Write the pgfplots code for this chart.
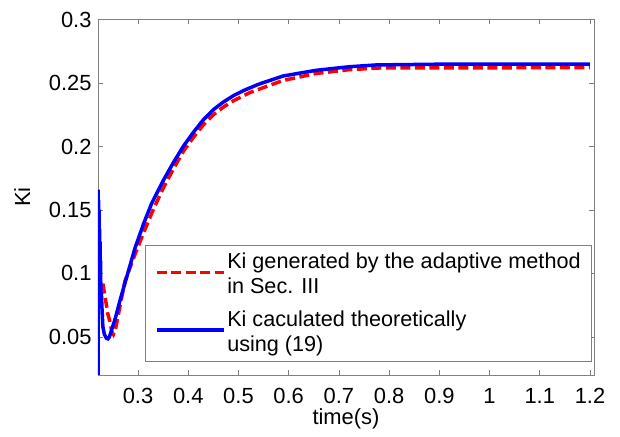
\documentclass[border=0pt]{standalone}
\usepackage{fontspec}
\setmainfont{Liberation Sans}
\usepackage{pgfplots}
\pgfplotsset{compat=1.18}
\definecolor{axgray}{RGB}{128,128,128}
\begin{document}
\fontsize{22}{27}\selectfont
\begin{tikzpicture}
\useasboundingbox (-98bp,-62bp) rectangle (522bp,375bp);
\begin{axis}[
  scale only axis,
  width=496bp, height=355.5bp,
  xmin=0.2203, xmax=1.208,
  ymin=0.02, ymax=0.3,
  xtick={0.3,0.4,0.5,0.6,0.7,0.8,0.9,1,1.1,1.2},
  ytick={0.05,0.1,0.15,0.2,0.25,0.3},
  xticklabels={0.3,0.4,0.5,0.6,0.7,0.8,0.9,1,1.1,1.2},
  yticklabels={0.05,0.1,0.15,0.2,0.25,0.3},
  tick align=inside,
  xtick pos=both, ytick pos=both,
  major tick length=5bp,
  tick style={axgray, line width=0.6bp},
  axis line style={axgray, line width=0.8bp},
  /pgf/number format/assume math mode=true,
  ticklabel style={font=\fontsize{22}{26}\selectfont},
  xticklabel style={yshift=-6bp},
  yticklabel style={xshift=1bp},
  xlabel={time(s)},
  ylabel={Ki},
  label style={font=\fontsize{22}{26}\selectfont},
  xlabel style={yshift=10bp},
  ylabel style={yshift=4bp},
  legend cell align=left,
  legend style={
    at={(rel axis cs:0.996,0.0366)}, anchor=south east,
    draw=axgray, line width=0.8bp,
    cells={align=left},
    font=\fontsize{21.7}{25}\selectfont,
    inner xsep=9bp, inner ysep=5bp,
    row sep=10bp,
  },
  legend image code/.code={\draw[#1] (0bp,2.5bp) -- (67bp,2.5bp);},
]
\addplot[red, line width=3.5bp, dash pattern=on 10bp off 4.5bp] coordinates {
(0.2300,0.092) (0.2350,0.080) (0.2400,0.068) (0.2440,0.062) (0.2480,0.054)
(0.2510,0.052) (0.2550,0.056) (0.2610,0.068) (0.2740,0.094) (0.2940,0.115)
(0.3100,0.131) (0.3300,0.150) (0.3500,0.167) (0.3700,0.182) (0.3900,0.196)
(0.4100,0.207) (0.4300,0.217) (0.4500,0.225) (0.4700,0.231) (0.4900,0.236)
(0.5230,0.2425) (0.5890,0.2520) (0.6550,0.2575) (0.7210,0.2605) (0.7800,0.2618)
(1.2000,0.2621)
};
\addlegendentry{Ki generated by the adaptive method\\in Sec. III}
\addplot[blue, line width=3.5bp] coordinates {
(0.2203,0.000) (0.2205,0.166) (0.2210,0.130) (0.2215,0.158) (0.2220,0.120)
(0.2225,0.150) (0.2230,0.105) (0.2235,0.135) (0.2240,0.095) (0.2245,0.125)
(0.2250,0.090) (0.2255,0.110) (0.2260,0.080) (0.2270,0.085) (0.2285,0.070)
(0.2300,0.058) (0.2330,0.052) (0.2370,0.049) (0.2400,0.0485) (0.2430,0.050)
(0.2470,0.055) (0.2550,0.065) (0.2650,0.080) (0.2810,0.102) (0.2940,0.120)
(0.3110,0.139) (0.3270,0.155) (0.3500,0.173) (0.3700,0.187) (0.3900,0.200)
(0.4100,0.211) (0.4300,0.221) (0.4500,0.229) (0.4700,0.235) (0.4900,0.240)
(0.5100,0.244) (0.5400,0.249) (0.5890,0.2555) (0.6550,0.2600) (0.7210,0.2628)
(0.7740,0.2642) (0.9000,0.2648) (1.2000,0.2648)
};
\addlegendentry{Ki caculated theoretically\\using (19)}
\end{axis}
\end{tikzpicture}
\end{document}
